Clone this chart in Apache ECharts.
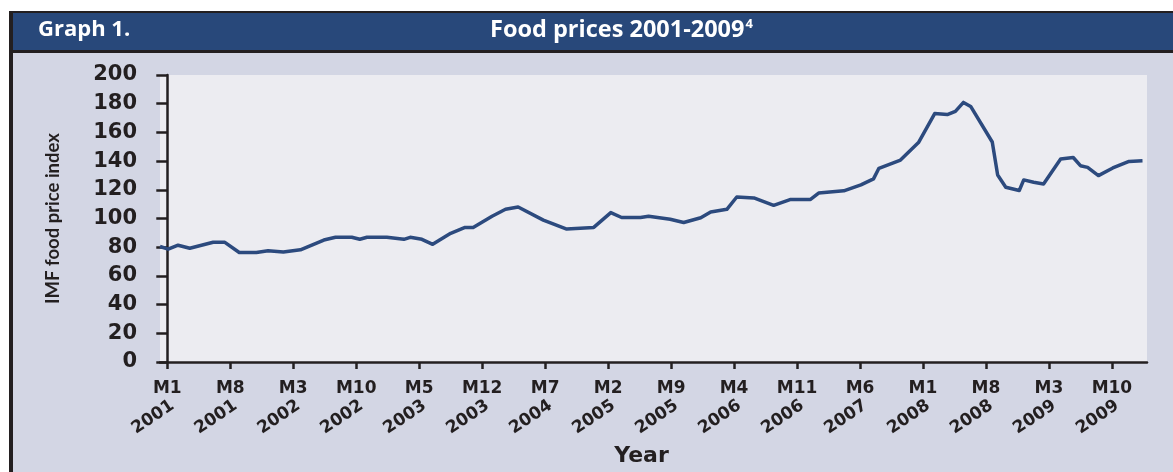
<!DOCTYPE html>
<html>
<head>
<meta charset="utf-8">
<script src="https://cdn.jsdelivr.net/npm/echarts@6/dist/echarts.min.js"></script>
<style>
html,body{margin:0;padding:0;background:#fff;}
#c{width:1173px;height:472px;}
</style>
</head>
<body>
<div id="c"></div>
<script>
// Month index (0 = January 2001) of each vertex of the line
const months = [-0.81, 0.1, 1.2, 2.5, 5.1, 6.4, 8.0, 9.9, 11.2, 12.9, 14.8, 17.4, 18.7, 20.5, 21.4, 22.2, 24.4, 26.3, 27.0, 28.3, 29.5, 31.5, 33.1, 34.0, 36.1, 37.6, 39.0, 41.8, 44.4, 47.4, 49.3, 50.5, 52.6, 53.5, 55.9, 57.4, 59.3, 60.4, 62.2, 63.3, 65.2, 67.4, 69.3, 71.5, 72.4, 75.2, 77.1, 78.5, 79.1, 81.5, 83.5, 85.3, 86.7, 87.6, 88.5, 89.3, 91.7, 92.3, 93.2, 94.7, 95.2, 96.3, 97.4, 99.3, 100.7, 101.5, 102.3, 103.5, 105.1, 106.9, 108.4];
// IMF food price index at those points
const foodIndex = [80.5, 78.6, 81.4, 79.3, 83.4, 83.4, 76.3, 76.3, 77.5, 76.6, 78.2, 85, 86.9, 86.9, 85.5, 86.9, 86.9, 85.5, 86.9, 85.5, 82, 89.7, 93.8, 93.8, 101.6, 106.4, 108, 98.9, 92.6, 93.8, 104.1, 100.7, 100.7, 101.6, 99.5, 97.2, 100.5, 104.6, 106.4, 115, 114.3, 109.2, 113.3, 113.3, 117.7, 119.3, 123.4, 127.6, 135, 140.7, 152.9, 173.1, 172.4, 174.7, 180.9, 178.1, 153.3, 130.3, 121.8, 119.5, 126.9, 125.3, 124.1, 141.4, 142.5, 136.8, 135.6, 129.9, 135.2, 139.8, 140.2];
// x-axis ticks
const tickMonths = [0, 7, 14, 21, 28, 35, 42, 49, 56, 63, 70, 77, 84, 91, 98, 105];
const monthLabels = ['M1','M8','M3','M10','M5','M12','M7','M2','M9','M4','M11','M6','M1','M8','M3','M10'];
const yearLabels = ['2001','2001','2002','2002','2003','2003','2004','2005','2005','2006','2006','2007','2008','2008','2009','2009'];
// y-axis
const yMin = 0, yMax = 200, yStep = 20;

const seriesData = months.map((m, i) => [m, foodIndex[i]]);
const labelFor = (arr) => (v) => { const i = tickMonths.indexOf(Math.round(v)); return i >= 0 ? arr[i] : ''; };

const dark = '#231f20';
const tickFont = 'DejaVu Sans';
const xMin = -0.81, xMax = 108.9;
const yearShift = 0.6; // year labels sit slightly right of their tick

const chart = echarts.init(document.getElementById('c'), null, {renderer: 'canvas'});
chart.setOption({
  animation: false,
  backgroundColor: '#ffffff',
  graphic: [
    {type: 'rect', z: -10, silent: true, shape: {x: 9, y: 11, width: 1164, height: 461}, style: {fill: dark}},
    {type: 'rect', z: -9, silent: true, shape: {x: 13, y: 13, width: 1160, height: 37}, style: {fill: '#28487a'}},
    {type: 'rect', z: -9, silent: true, shape: {x: 13, y: 53, width: 1160, height: 419}, style: {fill: '#d3d6e4'}}
  ],
  title: [
    {text: 'Graph 1.', left: 38, top: 19, padding: 0,
     textStyle: {color: '#ffffff', fontFamily: 'Open Sans', fontWeight: 'bold', fontSize: 22}},
    {text: 'Food prices 2001-2009{s|4}', left: 490, top: 18, padding: 0,
     textStyle: {color: '#ffffff', fontFamily: 'Open Sans', fontWeight: 'bold', fontSize: 23.5,
       rich: {s: {fontFamily: 'Open Sans', fontWeight: 'bold', fontSize: 13, color: '#ffffff', verticalAlign: 'top', padding: [0,0,10,1]}}}}
  ],
  grid: {left: 160, right: 26, top: 75, bottom: 106, show: true, backgroundColor: '#ececf1', borderWidth: 0, containLabel: false},
  xAxis: [
    {type: 'value', min: xMin, max: xMax, position: 'bottom',
     name: 'Year', nameLocation: 'middle', nameGap: 83,
     nameTextStyle: {fontFamily: tickFont, fontWeight: 'bold', fontSize: 22, color: dark, padding: [0, 24, 0, 0]},
     axisLine: {show: true, lineStyle: {color: dark, width: 2.5}},
     axisTick: {show: true, customValues: tickMonths, length: 7, lineStyle: {color: dark, width: 2.5}},
     axisLabel: {show: true, customValues: tickMonths, formatter: labelFor(monthLabels), margin: 18,
       fontFamily: tickFont, fontWeight: 'bold', fontSize: 17, color: dark},
     splitLine: {show: false}},
    {type: 'value', min: xMin - yearShift, max: xMax - yearShift, position: 'bottom', offset: 0,
     axisLine: {show: false}, axisTick: {show: false},
     axisLabel: {show: true, customValues: tickMonths, formatter: labelFor(yearLabels), margin: 42, rotate: 34,
       fontFamily: tickFont, fontWeight: 'bold', fontSize: 17, color: dark},
     splitLine: {show: false}}
  ],
  yAxis: {
    type: 'value', min: yMin, max: yMax, interval: yStep,
    name: 'IMF food price index', nameLocation: 'middle', nameGap: 97, nameRotate: 90,
    nameTextStyle: {fontFamily: 'Lato', fontWeight: 'bold', fontSize: 18.5, color: dark},
    axisLine: {show: true, lineStyle: {color: dark, width: 2.5}},
    axisTick: {show: true, inside: false, length: 11, lineStyle: {color: dark, width: 2.5}},
    axisLabel: {margin: 23, fontFamily: tickFont, fontWeight: 'bold', fontSize: 21, color: dark},
    splitLine: {show: false}
  },
  series: [{
    type: 'line', xAxisIndex: 0, yAxisIndex: 0, data: seriesData,
    showSymbol: false, symbol: 'none', smooth: false, silent: true,
    lineStyle: {color: '#2c4a7e', width: 3.5, join: 'round'}
  }]
});
</script>
</body>
</html>
